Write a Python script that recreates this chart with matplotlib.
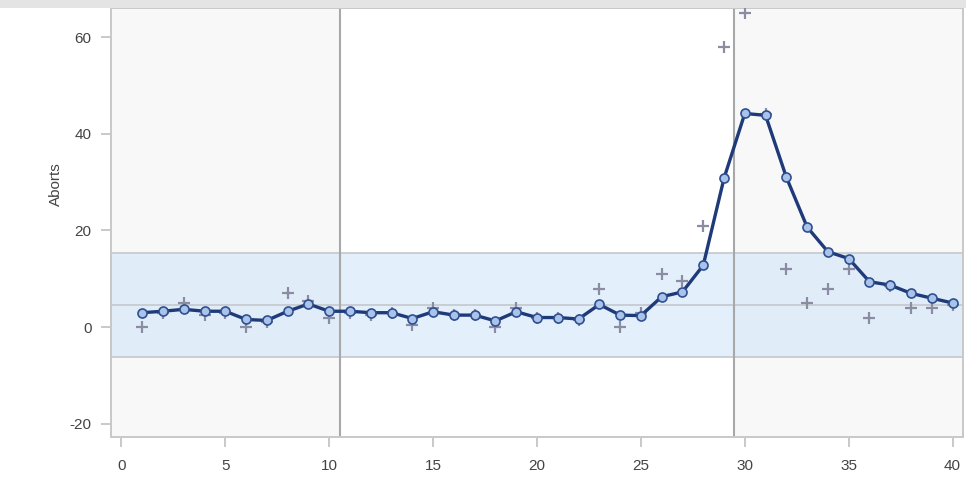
import numpy as np
import matplotlib
matplotlib.use("Agg")
import matplotlib.pyplot as plt

plt.rcParams["font.family"] = ["Liberation Sans", "DejaVu Sans"]
plt.rcParams["axes.unicode_minus"] = False

# weeks
weeks = list(range(1, 41))

# observed aborts (plus markers)
observed = [0, 3, 5, 2.5, 3, 0, 1, 7, 5.5, 2,
            3, 2.5, 3, 0.5, 4, 2.5, 2.5, 0, 4, 2,
            2, 1.5, 8, 0, 3, 11, 9.5, 21, 58, 65,
            44, 12, 5, 8, 12, 2, 8.5, 4, 4, 4.5]

# smoothed aborts (circles + line)
smoothed = [3.0, 3.3, 3.7, 3.3, 3.3, 1.6, 1.4, 3.3, 4.8, 3.3,
            3.3, 3.0, 3.0, 1.8, 3.2, 2.5, 2.5, 1.3, 3.2, 2.0,
            2.0, 1.7, 4.7, 2.5, 2.4, 6.3, 7.3, 12.8, 30.8, 44.2,
            43.8, 31.0, 20.7, 15.6, 14.2, 9.4, 8.7, 7.0, 6.0, 5.0]

mean_line = 4.5
upper_lim = 15.3
lower_lim = -6.2
split_left = 10.5
split_right = 29.5

fig = plt.figure(figsize=(9.66, 4.8), dpi=100)
fig.patch.set_facecolor("white")
# gray strip along the top edge
fig.patches.append(plt.Rectangle((0, 1 - 8/480), 1, 8/480, transform=fig.transFigure,
                                 facecolor="#e4e4e4", edgecolor="none", zorder=0))

ax = fig.add_axes([111/966, 43/480, 852/966, 429/480])
ax.set_facecolor("#f8f8f8")
ax.set_xlim(-0.5, 40.5)
ax.set_ylim(-22.7, 66)

# white middle period
ax.axvspan(split_left, split_right, color="white", zorder=0)
# limits band
ax.axhspan(lower_lim, upper_lim, color="#cfe3fa", alpha=0.55, lw=0, zorder=1)
for yv in (lower_lim, upper_lim, mean_line):
    ax.axhline(yv, color="#c4c8cc", lw=1.2, zorder=2)
for xv in (split_left, split_right):
    ax.axvline(xv, color="#a8a8a8", lw=1.5, zorder=2)

ax.plot(weeks, observed, ls="none", marker="+", ms=8, mew=1.6, color="#8a8ca2", zorder=3)
ax.plot(weeks, smoothed, color="#1e3a78", lw=2.4, marker="o", ms=6.5,
        mfc="#a9c3ea", mec="#2f4f8f", mew=1.2, zorder=4)

ax.set_xticks(range(0, 41, 5))
ax.set_yticks(range(-20, 61, 20))
ax.set_ylabel("Aborts", fontsize=11, color="#444444", labelpad=5, y=0.59)
ax.tick_params(colors="#c0c0c0", labelcolor="#444444", labelsize=11, length=7, width=1.2)
ax.tick_params(axis="x", pad=9)
ax.tick_params(axis="y", pad=7)
for side in ("top", "right", "bottom", "left"):
    ax.spines[side].set_color("#c8c8c8")
    ax.spines[side].set_linewidth(1.4)

fig.savefig("out.png", dpi=100)
